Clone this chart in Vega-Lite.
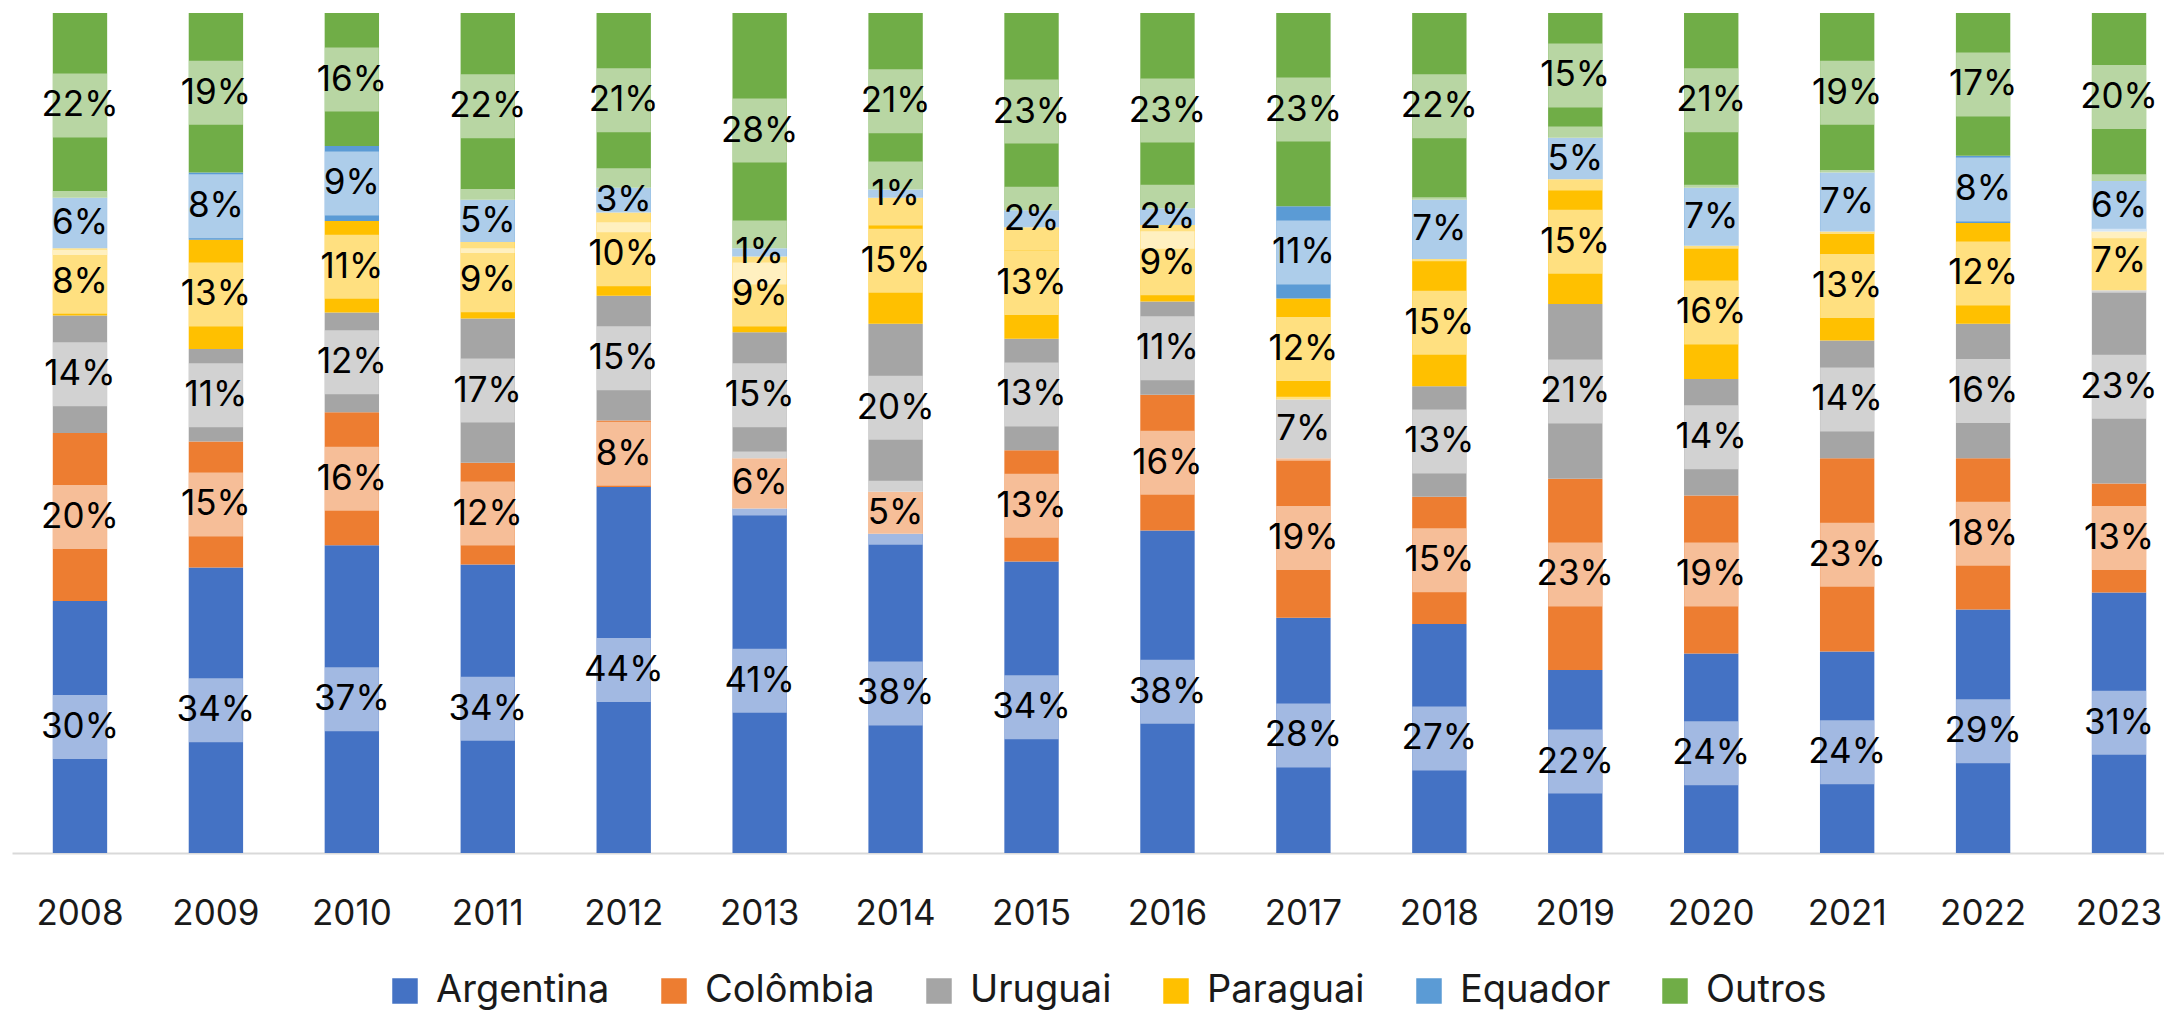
{
  "$schema": "https://vega.github.io/schema/vega-lite/v6.json",
  "autosize": {"type": "none"},
  "width": 2152,
  "height": 840,
  "padding": {"left": 12, "top": 13, "right": 0, "bottom": 159},
  "background": "white",
  "config": {
    "view": {"stroke": null},
    "font": "Inter",
    "axis": {"labelFont": "Inter", "grid": false},
    "legend": {"labelFont": "Inter"}
  },
  "data": {
    "values": [
      {"year": "2008", "country": "Argentina", "k": 1, "share": 0.30},
      {"year": "2008", "country": "Colômbia", "k": 2, "share": 0.20},
      {"year": "2008", "country": "Uruguai", "k": 3, "share": 0.14},
      {"year": "2008", "country": "Paraguai", "k": 4, "share": 0.08},
      {"year": "2008", "country": "Equador", "k": 5, "share": 0.06},
      {"year": "2008", "country": "Outros", "k": 6, "share": 0.22},
      {"year": "2009", "country": "Argentina", "k": 1, "share": 0.34},
      {"year": "2009", "country": "Colômbia", "k": 2, "share": 0.15},
      {"year": "2009", "country": "Uruguai", "k": 3, "share": 0.11},
      {"year": "2009", "country": "Paraguai", "k": 4, "share": 0.13},
      {"year": "2009", "country": "Equador", "k": 5, "share": 0.08},
      {"year": "2009", "country": "Outros", "k": 6, "share": 0.19},
      {"year": "2010", "country": "Argentina", "k": 1, "share": 0.37},
      {"year": "2010", "country": "Colômbia", "k": 2, "share": 0.16},
      {"year": "2010", "country": "Uruguai", "k": 3, "share": 0.12},
      {"year": "2010", "country": "Paraguai", "k": 4, "share": 0.11},
      {"year": "2010", "country": "Equador", "k": 5, "share": 0.09},
      {"year": "2010", "country": "Outros", "k": 6, "share": 0.16},
      {"year": "2011", "country": "Argentina", "k": 1, "share": 0.34},
      {"year": "2011", "country": "Colômbia", "k": 2, "share": 0.12},
      {"year": "2011", "country": "Uruguai", "k": 3, "share": 0.17},
      {"year": "2011", "country": "Paraguai", "k": 4, "share": 0.09},
      {"year": "2011", "country": "Equador", "k": 5, "share": 0.05},
      {"year": "2011", "country": "Outros", "k": 6, "share": 0.22},
      {"year": "2012", "country": "Argentina", "k": 1, "share": 0.44},
      {"year": "2012", "country": "Colômbia", "k": 2, "share": 0.08},
      {"year": "2012", "country": "Uruguai", "k": 3, "share": 0.15},
      {"year": "2012", "country": "Paraguai", "k": 4, "share": 0.10},
      {"year": "2012", "country": "Equador", "k": 5, "share": 0.03},
      {"year": "2012", "country": "Outros", "k": 6, "share": 0.21},
      {"year": "2013", "country": "Argentina", "k": 1, "share": 0.41},
      {"year": "2013", "country": "Colômbia", "k": 2, "share": 0.06},
      {"year": "2013", "country": "Uruguai", "k": 3, "share": 0.15},
      {"year": "2013", "country": "Paraguai", "k": 4, "share": 0.09},
      {"year": "2013", "country": "Equador", "k": 5, "share": 0.01},
      {"year": "2013", "country": "Outros", "k": 6, "share": 0.28},
      {"year": "2014", "country": "Argentina", "k": 1, "share": 0.38},
      {"year": "2014", "country": "Colômbia", "k": 2, "share": 0.05},
      {"year": "2014", "country": "Uruguai", "k": 3, "share": 0.20},
      {"year": "2014", "country": "Paraguai", "k": 4, "share": 0.15},
      {"year": "2014", "country": "Equador", "k": 5, "share": 0.01},
      {"year": "2014", "country": "Outros", "k": 6, "share": 0.21},
      {"year": "2015", "country": "Argentina", "k": 1, "share": 0.34},
      {"year": "2015", "country": "Colômbia", "k": 2, "share": 0.13},
      {"year": "2015", "country": "Uruguai", "k": 3, "share": 0.13},
      {"year": "2015", "country": "Paraguai", "k": 4, "share": 0.13},
      {"year": "2015", "country": "Equador", "k": 5, "share": 0.02},
      {"year": "2015", "country": "Outros", "k": 6, "share": 0.23},
      {"year": "2016", "country": "Argentina", "k": 1, "share": 0.38},
      {"year": "2016", "country": "Colômbia", "k": 2, "share": 0.16},
      {"year": "2016", "country": "Uruguai", "k": 3, "share": 0.11},
      {"year": "2016", "country": "Paraguai", "k": 4, "share": 0.09},
      {"year": "2016", "country": "Equador", "k": 5, "share": 0.02},
      {"year": "2016", "country": "Outros", "k": 6, "share": 0.23},
      {"year": "2017", "country": "Argentina", "k": 1, "share": 0.28},
      {"year": "2017", "country": "Colômbia", "k": 2, "share": 0.19},
      {"year": "2017", "country": "Uruguai", "k": 3, "share": 0.07},
      {"year": "2017", "country": "Paraguai", "k": 4, "share": 0.12},
      {"year": "2017", "country": "Equador", "k": 5, "share": 0.11},
      {"year": "2017", "country": "Outros", "k": 6, "share": 0.23},
      {"year": "2018", "country": "Argentina", "k": 1, "share": 0.27},
      {"year": "2018", "country": "Colômbia", "k": 2, "share": 0.15},
      {"year": "2018", "country": "Uruguai", "k": 3, "share": 0.13},
      {"year": "2018", "country": "Paraguai", "k": 4, "share": 0.15},
      {"year": "2018", "country": "Equador", "k": 5, "share": 0.07},
      {"year": "2018", "country": "Outros", "k": 6, "share": 0.22},
      {"year": "2019", "country": "Argentina", "k": 1, "share": 0.22},
      {"year": "2019", "country": "Colômbia", "k": 2, "share": 0.23},
      {"year": "2019", "country": "Uruguai", "k": 3, "share": 0.21},
      {"year": "2019", "country": "Paraguai", "k": 4, "share": 0.15},
      {"year": "2019", "country": "Equador", "k": 5, "share": 0.05},
      {"year": "2019", "country": "Outros", "k": 6, "share": 0.15},
      {"year": "2020", "country": "Argentina", "k": 1, "share": 0.24},
      {"year": "2020", "country": "Colômbia", "k": 2, "share": 0.19},
      {"year": "2020", "country": "Uruguai", "k": 3, "share": 0.14},
      {"year": "2020", "country": "Paraguai", "k": 4, "share": 0.16},
      {"year": "2020", "country": "Equador", "k": 5, "share": 0.07},
      {"year": "2020", "country": "Outros", "k": 6, "share": 0.21},
      {"year": "2021", "country": "Argentina", "k": 1, "share": 0.24},
      {"year": "2021", "country": "Colômbia", "k": 2, "share": 0.23},
      {"year": "2021", "country": "Uruguai", "k": 3, "share": 0.14},
      {"year": "2021", "country": "Paraguai", "k": 4, "share": 0.13},
      {"year": "2021", "country": "Equador", "k": 5, "share": 0.07},
      {"year": "2021", "country": "Outros", "k": 6, "share": 0.19},
      {"year": "2022", "country": "Argentina", "k": 1, "share": 0.29},
      {"year": "2022", "country": "Colômbia", "k": 2, "share": 0.18},
      {"year": "2022", "country": "Uruguai", "k": 3, "share": 0.16},
      {"year": "2022", "country": "Paraguai", "k": 4, "share": 0.12},
      {"year": "2022", "country": "Equador", "k": 5, "share": 0.08},
      {"year": "2022", "country": "Outros", "k": 6, "share": 0.17},
      {"year": "2023", "country": "Argentina", "k": 1, "share": 0.31},
      {"year": "2023", "country": "Colômbia", "k": 2, "share": 0.13},
      {"year": "2023", "country": "Uruguai", "k": 3, "share": 0.23},
      {"year": "2023", "country": "Paraguai", "k": 4, "share": 0.07},
      {"year": "2023", "country": "Equador", "k": 5, "share": 0.06},
      {"year": "2023", "country": "Outros", "k": 6, "share": 0.20}
    ]
  },
  "encoding": {
    "x": {
      "field": "year",
      "type": "nominal",
      "scale": {"range": [0, 2175], "paddingInner": 0.6, "paddingOuter": 0.3},
      "axis": {
        "title": null,
        "labelAngle": 0,
        "labelFontSize": 35,
        "labelColor": "#1a1a1a",
        "ticks": false,
        "labelPadding": 43,
        "domainColor": "#D9D9D9",
        "domainWidth": 2
      }
    },
    "order": {"field": "k", "type": "quantitative", "sort": "ascending"}
  },
  "layer": [
    {
      "mark": {"type": "bar"},
      "encoding": {
        "y": {"field": "share", "type": "quantitative", "stack": "normalize", "axis": null, "scale": {"domain": [0, 1]}},
        "color": {
          "field": "country",
          "type": "nominal",
          "scale": {
            "domain": ["Argentina", "Colômbia", "Uruguai", "Paraguai", "Equador", "Outros"],
            "range": ["#4472C4", "#ED7D31", "#A5A5A5", "#FFC000", "#5B9BD5", "#70AD47"]
          },
          "legend": {
            "title": null,
            "orient": "none",
            "legendX": 374,
            "legendY": 959,
            "direction": "horizontal",
            "symbolType": "square",
            "symbolSize": 650,
            "symbolStrokeWidth": 0,
            "labelFontSize": 38,
            "labelLimit": 0,
            "labelColor": "#1a1a1a",
            "labelOffset": 12,
            "columnPadding": 45
          }
        }
      }
    },
    {
      "mark": {"type": "tick", "color": "#FFFFFF", "opacity": 0.5, "thickness": 64, "size": 54},
      "encoding": {
        "y": {"field": "share", "type": "quantitative", "stack": "normalize", "bandPosition": 0.5},
        "detail": {"field": "country", "type": "nominal"}
      }
    },
    {
      "mark": {"type": "text", "fontSize": 35, "font": "Inter", "color": "#000000", "baseline": "middle", "align": "center"},
      "encoding": {
        "y": {"field": "share", "type": "quantitative", "stack": "normalize", "bandPosition": 0.5},
        "detail": {"field": "country", "type": "nominal"},
        "text": {"field": "share", "type": "quantitative", "format": ".0%"}
      }
    }
  ]
}
